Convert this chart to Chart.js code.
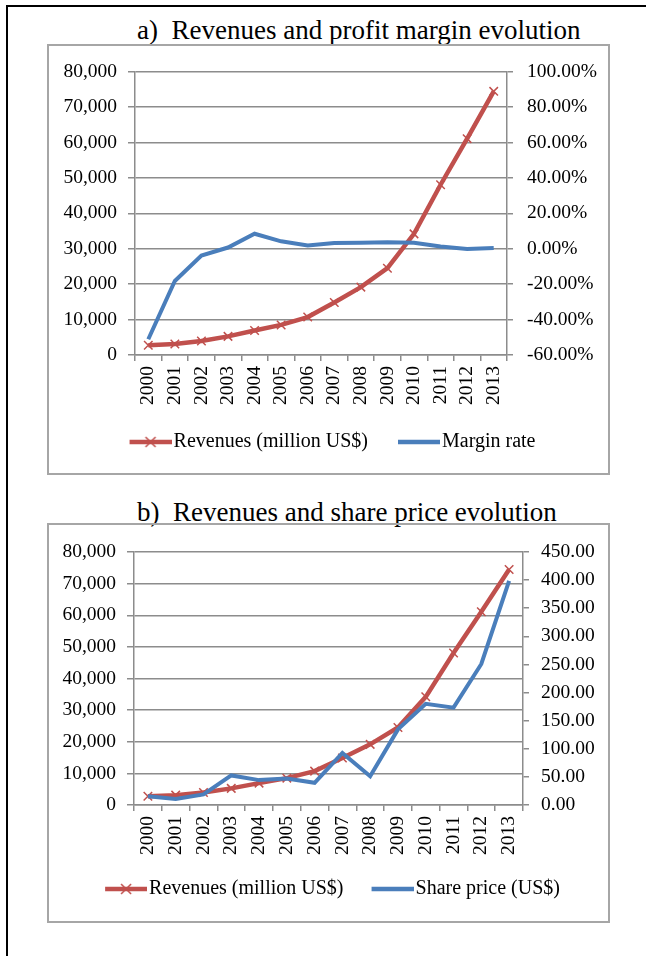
<!DOCTYPE html>
<html>
<head>
<meta charset="utf-8">
<script src="https://cdn.jsdelivr.net/npm/chart.js@4.4.1/dist/chart.umd.min.js"></script>
<style>
  body { margin: 0; background: #fff; }
  #page { position: relative; width: 646px; height: 956px; overflow: hidden; font-family: "Liberation Serif", "Times New Roman", serif; }
  .frameTop { position: absolute; left: 6px; top: 5px; width: 640px; height: 2px; background: #000; }
  .frameLeft { position: absolute; left: 6px; top: 5px; width: 2px; height: 951px; background: #000; }
  .title { position: absolute; left: 137px; font-size: 27px; line-height: 30px; color: #000; white-space: pre; }
  .box { position: absolute; left: 47px; width: 559px; border: 2px solid #a6a6a6; }
  canvas { position: absolute; left: 0; top: 0; }
</style>
</head>
<body>
<div id="page">
  <div class="frameTop"></div>
  <div class="frameLeft"></div>
  <div class="title" style="top:15px">a)  Revenues and profit margin evolution</div>
  <div class="box" style="top:44px;height:427px"><canvas id="chartA" width="559" height="427"></canvas></div>
  <div class="title" style="top:497px">b)  Revenues and share price evolution</div>
  <div class="box" style="top:523px;height:396px"><canvas id="chartB" width="559" height="396"></canvas></div>
</div>
<script>
const years = ["2000", "2001", "2002", "2003", "2004", "2005", "2006", "2007", "2008", "2009", "2010", "2011", "2012", "2013"];
// million US$
const revenues = [2762, 3122, 3933, 5264, 6921, 8490, 10711, 14835, 19166, 24509, 34204, 48077, 61093, 74452];
// net margin, in %
const marginRate = [-51.1, -18.2, -3.8, 0.7, 8.5, 4.2, 1.8, 3.2, 3.4, 3.7, 3.4, 1.3, -0.1, 0.4];
// US$
const sharePrice = [15.56, 10.82, 18.89, 52.62, 44.29, 47.15, 39.46, 92.64, 51.28, 134.52, 180.0, 173.1, 250.87, 398.79];

const revenueTicks = { min: 0, max: 80000, step: 10000 };
const marginTicks = { min: -60, max: 100, step: 20 };
const priceTicks = { min: 0, max: 450, step: 50 };

const RED = "#c0504d";
const BLUE = "#4a7ebb";
const GRID = "#8c8c8c";
const FONT = "'Liberation Serif', 'Times New Roman', serif";

Chart.defaults.font.family = FONT;
Chart.defaults.font.size = 19.5;
Chart.defaults.color = "#000";

function withCommas(v) {
    return String(v).replace(/\B(?=(\d{3})+(?!\d))/g, ",");
}

// legend sample: a short line (with an x on it for the revenue series)
function legendIcon(color, cross) {
    const c = document.createElement("canvas");
    c.width = 58;
    c.height = 14;
    const g = c.getContext("2d");
    g.strokeStyle = color;
    g.lineWidth = 4.5;
    g.beginPath();
    g.moveTo(16, 7);
    g.lineTo(58, 7);
    g.stroke();
    if (cross) {
        g.lineWidth = 1.5;
        g.beginPath();
        g.moveTo(32, 2); g.lineTo(42, 12);
        g.moveTo(42, 2); g.lineTo(32, 12);
        g.stroke();
    }
    return c;
}

function makeChart(canvasId, second, opts) {
    const icons = [legendIcon(RED, true), legendIcon(BLUE, false)];
    return new Chart(document.getElementById(canvasId), {
        type: "line",
        data: {
            labels: years,
            datasets: [
                {
                    label: "Revenues (million US$)",
                    data: revenues,
                    yAxisID: "y",
                    borderColor: RED,
                    backgroundColor: RED,
                    borderWidth: 4.5,
                    pointStyle: "crossRot",
                    pointRadius: 6,
                    pointBorderWidth: 1.5,
                    tension: 0,
                    order: 1,
                },
                {
                    label: second.label,
                    data: second.data,
                    yAxisID: "y1",
                    borderColor: BLUE,
                    backgroundColor: BLUE,
                    borderWidth: 4,
                    pointRadius: 0,
                    tension: 0,
                    order: 0,
                },
            ],
        },
        options: {
            responsive: false,
            animation: false,
            layout: { padding: { top: opts.padTop, bottom: opts.padBottom, left: 0, right: 0 } },
            plugins: {
                tooltip: { enabled: false },
                legend: {
                    position: "bottom",
                    labels: {
                        usePointStyle: true,
                        pointStyleWidth: 42,
                        padding: opts.legendGap,
                        font: { size: 20 },
                        color: "#000",
                        generateLabels: (chart) =>
                            chart.data.datasets.map((ds, i) => ({
                                text: ds.label,
                                pointStyle: icons[i],
                                datasetIndex: i,
                                hidden: false,
                                fontColor: "#000",
                                lineWidth: 0,
                                strokeStyle: "rgba(0,0,0,0)",
                                fillStyle: "rgba(0,0,0,0)",
                            })),
                    },
                },
            },
            scales: {
                x: {
                    offset: true,
                    grid: { offset: true, drawOnChartArea: false, tickLength: 6, color: GRID, lineWidth: 1.5 },
                    border: { color: GRID, width: 1.5 },
                    ticks: { autoSkip: false, minRotation: 90, maxRotation: 90, padding: 5 },
                    afterFit: (s) => { s.height = opts.xHeight; },
                },
                y: {
                    position: "left",
                    min: revenueTicks.min,
                    max: revenueTicks.max,
                    grid: { color: GRID, lineWidth: 1.5, tickLength: 7 },
                    border: { color: GRID, width: 1.5 },
                    ticks: { stepSize: revenueTicks.step, padding: opts.leftPad, callback: (v) => withCommas(v) },
                    afterFit: (s) => { s.width = opts.leftWidth; },
                },
                y1: {
                    position: "right",
                    min: second.ticks.min,
                    max: second.ticks.max,
                    grid: { drawOnChartArea: false, color: GRID, lineWidth: 1.5, tickLength: 6 },
                    border: { color: GRID, width: 1.5 },
                    ticks: { stepSize: second.ticks.step, padding: opts.rightPad, callback: second.format },
                    afterFit: (s) => { s.width = opts.rightWidth; },
                },
            },
        },
    });
}

makeChart(
    "chartA",
    { label: "Margin rate", data: marginRate, ticks: marginTicks, format: (v) => v.toFixed(2) + "%" },
    { padTop: 25, padBottom: 11, legendGap: 22, xHeight: 55, leftWidth: 86, rightWidth: 101, leftPad: 11, rightPad: 14 }
);

makeChart(
    "chartB",
    { label: "Share price (US$)", data: sharePrice, ticks: priceTicks, format: (v) => v.toFixed(2) },
    { padTop: 27, padBottom: 12, legendGap: 20, xHeight: 54, leftWidth: 85, rightWidth: 85, leftPad: 11, rightPad: 12 }
);
</script>
</body>
</html>
